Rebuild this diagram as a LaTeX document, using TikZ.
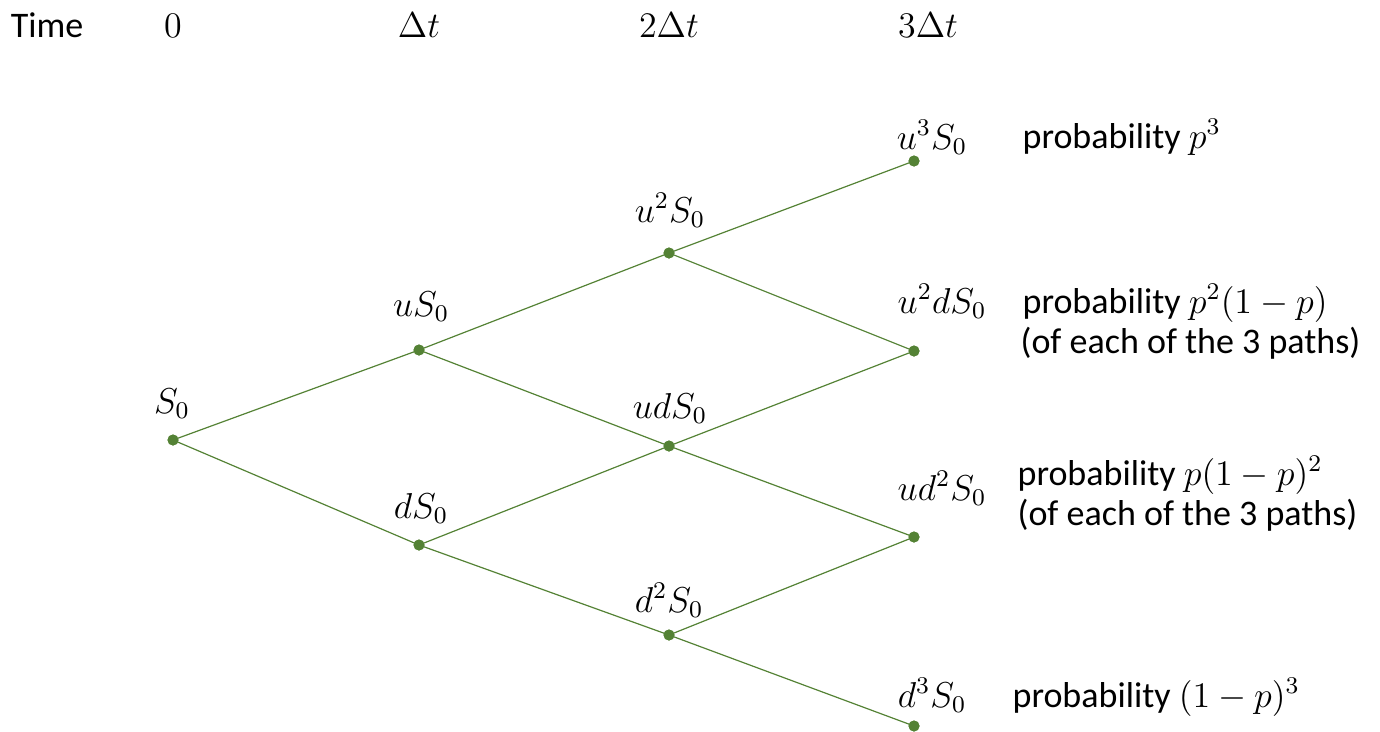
\documentclass[tikz,border=0pt]{standalone}
\usepackage{fontspec}
\setmainfont{Carlito}
\definecolor{treegreen}{HTML}{548235}
\begin{document}
\begin{tikzpicture}[x=1pt,y=-1pt,
  dot/.style={circle,fill=treegreen,inner sep=0pt,minimum size=11pt},
  edge/.style={draw=treegreen,line width=1.2pt},
  txt/.style={font=\fontsize{11.5}{13}\selectfont,inner sep=0pt,scale=3,transform shape},
  bigtxt/.style={font=\fontsize{12}{14}\selectfont,inner sep=0pt,scale=3,transform shape},
  lbl/.style={txt,anchor=base},
  note/.style={bigtxt,anchor=base west}]
\useasboundingbox (0,0) rectangle (1380,731);
% header
\node[bigtxt,anchor=base] (hTime) at (47,37) {Time};
\node[lbl] (h0) at (173,37) {$0$};
\node[lbl] (h1) at (419,37) {$\Delta t$};
\node[lbl] (h2) at (669,37) {$2\Delta t$};
\node[lbl] (h3) at (928,37) {$3\Delta t$};
% dots
\node[dot] (A) at (173,440) {};
\node[dot] (B) at (419,350) {};
\node[dot] (C) at (419,545) {};
\node[dot] (D) at (669,253) {};
\node[dot] (E) at (669,446) {};
\node[dot] (F) at (669,635) {};
\node[dot] (G) at (914,161) {};
\node[dot] (H) at (914,351) {};
\node[dot] (I) at (914,537) {};
\node[dot] (J) at (914,726) {};
% edges
\draw[edge] (A.center) -- (B.center);
\draw[edge] (A.center) -- (C.center);
\draw[edge] (B.center) -- (D.center);
\draw[edge] (B.center) -- (E.center);
\draw[edge] (C.center) -- (E.center);
\draw[edge] (C.center) -- (F.center);
\draw[edge] (D.center) -- (G.center);
\draw[edge] (D.center) -- (H.center);
\draw[edge] (E.center) -- (H.center);
\draw[edge] (E.center) -- (I.center);
\draw[edge] (F.center) -- (I.center);
\draw[edge] (F.center) -- (J.center);
% redraw dots on top
\foreach \n in {A,B,C,D,E,F,G,H,I,J}{\fill[treegreen] (\n) circle (5.5pt);}
% value labels
\node[lbl] (lA) at (172,413) {$S_0$};
\node[lbl] (lB) at (421,316) {$uS_0$};
\node[lbl] (lC) at (421,518) {$dS_0$};
\node[lbl] (lD) at (670,222) {$u^2S_0$};
\node[lbl] (lE) at (670,418) {$udS_0$};
\node[lbl] (lF) at (669,612) {$d^2S_0$};
\node[lbl] (lG) at (932,149) {$u^3S_0$};
\node[lbl] (lH) at (942,313) {$u^2dS_0$};
\node[lbl] (lI) at (942,500) {$ud^2S_0$};
\node[lbl] (lJ) at (932,707) {$d^3S_0$};
% probability notes
\node[note] (pG) at (1022,148) {probability $p^3$};
\node[note] (pH) at (1022,313) {probability $p^2(1-p)$};
\node[note] (pH2) at (1020,353) {(of each of the 3 paths)};
\node[note] (pI) at (1017,485) {probability $p(1-p)^2$};
\node[note] (pI2) at (1017,525) {(of each of the 3 paths)};
\node[note] (pJ) at (1012,707) {probability $(1-p)^3$};
\end{tikzpicture}
\end{document}
